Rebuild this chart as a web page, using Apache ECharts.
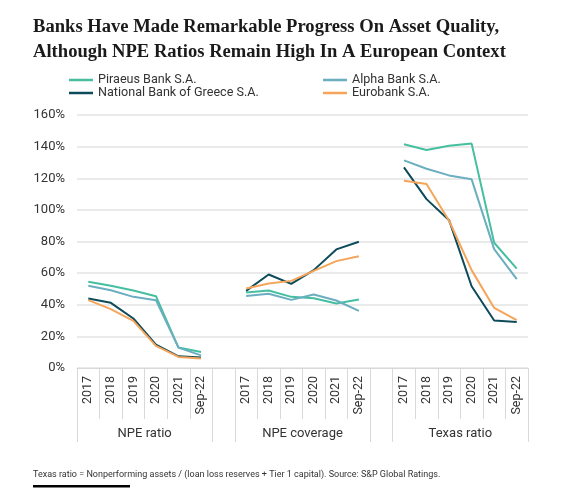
<!DOCTYPE html>
<html>
<head>
<meta charset="utf-8">
<script src="https://cdn.jsdelivr.net/npm/echarts@6/dist/echarts.min.js"></script>
<style>
html,body{margin:0;padding:0;background:#fff;}
#c{width:588px;height:490px;}
</style>
</head>
<body>
<div id="c"></div>
<script>
const years = ['2017','2018','2019','2020','2021','Sep-22'];
const groups = ['NPE ratio','NPE coverage','Texas ratio'];
const yTicks = [0,20,40,60,80,100,120,140,160];

const piraeusRatio = [54.5,52,49,45.4,12.9,10.1];
const alphaRatio   = [52,49.2,45,42.9,12.9,8];
const nbgRatio     = [44,41.2,31.3,14.8,7.4,6.6];
const euroRatio    = [42.9,37.2,29.8,14,7,6];

const piraeusCov = [47.7,49,45,44.1,40.8,43.3];
const alphaCov   = [45.6,46.9,43.1,46.5,42.7,36.1];
const nbgCov     = [48.8,59.1,53.2,61.9,75,79.8];
const euroCov    = [50.3,53.4,55.1,61.4,67.6,70.7];

const piraeusTexas = [141.5,137.9,140.6,141.9,79.2,62.9];
const alphaTexas   = [131.3,126,121.8,119.3,75.2,56.2];
const nbgTexas     = [126.9,106.8,93.5,51.7,30,29.1];
const euroTexas    = [118.4,116.3,93.1,61.9,38,30.2];

const names = ['Piraeus Bank S.A.','Alpha Bank S.A.','National Bank of Greece S.A.','Eurobank S.A.'];
const colors = ['#45bf9f','#6aaec0','#0d4a5a','#f5a55a'];

const cats = [...years, '', ...years.map(y=>y+' '), '', ...years.map(y=>y+'  ')];
function join(a,b,c){ return [...a, null, ...b, null, ...c]; }
const seriesData = [
  join(piraeusRatio, piraeusCov, piraeusTexas),
  join(alphaRatio, alphaCov, alphaTexas),
  join(nbgRatio, nbgCov, nbgTexas),
  join(euroRatio, euroCov, euroTexas)
];

const FONT = 'Roboto';
const chart = echarts.init(document.getElementById('c'), null, {renderer:'canvas'});
chart.setOption({
  animation:false,
  title:[{
    text:'Banks Have Made Remarkable Progress On Asset Quality,\nAlthough NPE Ratios Remain High In A European Context',
    left:28, top:10,
    textStyle:{fontFamily:'Liberation Serif', fontSize:18.6, fontWeight:'bold', color:'#1a1a1a', lineHeight:25}
  },{
    text:'Texas ratio = Nonperforming assets / (loan loss reserves + Tier 1 capital). Source: S&P Global Ratings.',
    left:28, top:465,
    textStyle:{fontFamily:FONT, fontSize:9, fontWeight:'normal', color:'#333'}
  }],
  graphic:[{type:'rect', left:33, top:485, shape:{width:97, height:2.5}, style:{fill:'#000'}}],
  legend:[{
    data:[names[0],names[2]], orient:'vertical', left:64, top:68, itemGap:-1,
    icon:'rect', itemWidth:24, itemHeight:2.5,
    textStyle:{fontFamily:FONT, fontSize:12.6, color:'#333', lineHeight:14}
  },{
    data:[names[1],names[3]], orient:'vertical', left:318, top:68, itemGap:-1,
    icon:'rect', itemWidth:24, itemHeight:2.5,
    textStyle:{fontFamily:FONT, fontSize:12.6, color:'#333', lineHeight:14}
  }],
  grid:{left:77, right:60, top:115, bottom:122, containLabel:false},
  xAxis:[{
    type:'category', data:cats, boundaryGap:true,
    axisLine:{show:true, lineStyle:{color:'#d9d9d9', width:1}},
    axisTick:{show:true, interval:0, length:51, lineStyle:{color:'#d9d9d9'}},
    axisLabel:{interval:0, rotate:90, margin:8, fontFamily:FONT, fontSize:12.5, color:'#333',
      formatter:v=>v.trim()}
  },{
    type:'value', min:0, max:cats.length, position:'bottom', offset:0,
    axisLine:{show:false}, splitLine:{show:false},
    axisTick:{show:true, length:74, customValues:[0,6,7,13,14,20], lineStyle:{color:'#d9d9d9'}},
    axisLabel:{show:true, customValues:[3,10,17], margin:59, fontFamily:FONT, fontSize:13, color:'#333',
      formatter:v=>({3:groups[0],10:groups[1],17:groups[2]})[v]}
  }],
  yAxis:{
    type:'value', min:0, max:160, interval:20,
    axisLine:{show:false}, axisTick:{show:false},
    splitLine:{lineStyle:{color:'#e3e3e3', width:1.5}},
    axisLabel:{margin:12, fontFamily:FONT, fontSize:13, color:'#333', formatter:v=>v+'%'}
  },
  series:names.map((n,i)=>({
    name:n, type:'line', data:seriesData[i], symbol:'none', connectNulls:false,
    lineStyle:{color:colors[i], width:2}, itemStyle:{color:colors[i]}, xAxisIndex:0
  }))
});
</script>
</body>
</html>
